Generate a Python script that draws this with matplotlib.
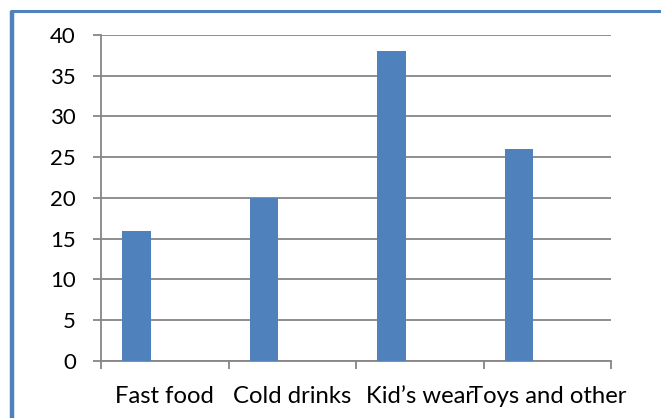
import matplotlib
matplotlib.use('Agg')
import matplotlib.pyplot as plt
from matplotlib.lines import Line2D
import numpy as np

categories = ['Fast food', 'Cold drinks', 'Kid\u2019s wear', 'Toys and other']
values = [16, 20, 38, 26]
y_ticks = [0, 5, 10, 15, 20, 25, 30, 35, 40]

blue = '#4F81BD'
gray = '#868686'

plt.rcParams['font.family'] = ['Lato', 'DejaVu Sans']

fig = plt.figure(figsize=(6.61, 4.18), dpi=100)
ax = fig.add_axes([0.1528, 0.1364, 0.7716, 0.7799])

# chart frame: blue edge on the left and top
fig.add_artist(Line2D([0.018, 0.018], [0, 0.974], color=blue, linewidth=3.2,
                      transform=fig.transFigure, solid_capstyle='butt'))
fig.add_artist(Line2D([0.0155, 1.0], [0.9725, 0.9725], color=blue, linewidth=2.2,
                      transform=fig.transFigure, solid_capstyle='butt'))

x = np.arange(len(categories))
bar_w = 1 / 4.5
ax.bar(x - bar_w, values, width=bar_w, color=blue, zorder=3)

ax.set_xlim(-0.5, len(categories) - 0.5)
ax.set_ylim(0, 40)
ax.set_yticks(y_ticks)
ax.yaxis.grid(True, color=gray, linewidth=1.3, zorder=0)

ax.set_xticks(np.arange(-0.5, len(categories), 1.0))
ax.set_xticklabels([])
ax.set_xticks(x, minor=True)
ax.set_xticklabels(categories, minor=True)

for s in ['top', 'right']:
    ax.spines[s].set_visible(False)
for s in ['left', 'bottom']:
    ax.spines[s].set_color(gray)
    ax.spines[s].set_linewidth(1.3)

ax.tick_params(axis='y', direction='out', length=6, width=1.3, color=gray,
               labelsize=16, pad=12)
ax.tick_params(axis='x', which='major', direction='out', length=6, width=1.3, color=gray)
ax.tick_params(axis='x', which='minor', length=0, labelsize=17.2, pad=18)

fig.savefig('out.png', dpi=100)
